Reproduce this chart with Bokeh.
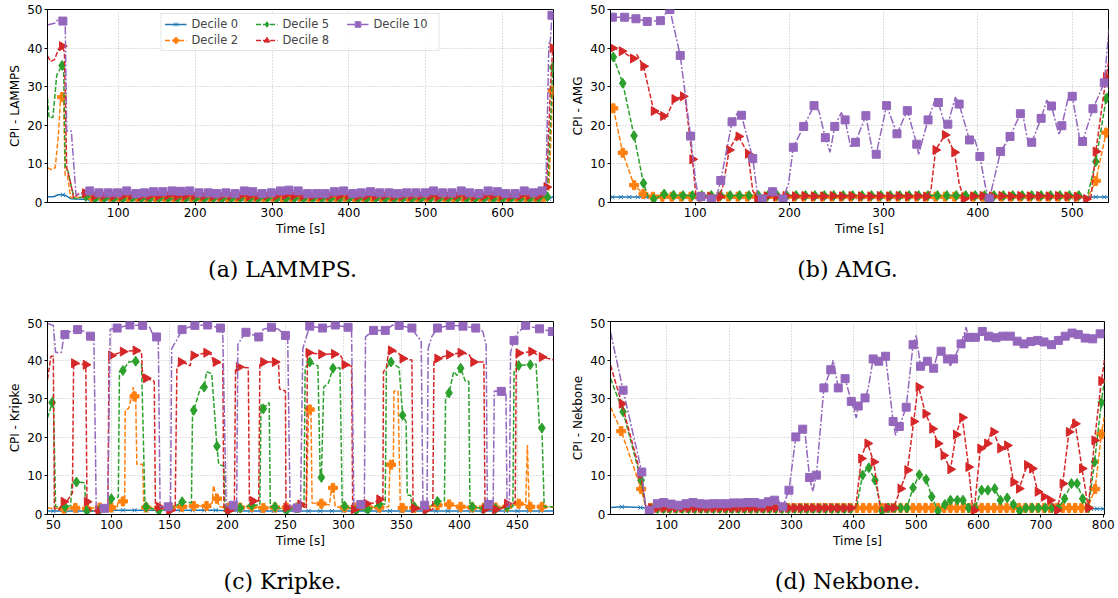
import math
from bokeh.plotting import figure
from bokeh.layouts import column, row
from bokeh.models import Range1d, FixedTicker, Legend, LegendItem
from bokeh.core.properties import value
from bokeh.embed import file_html
from bokeh.resources import INLINE

# ---------------- DATA ----------------
# Each series: marker points (t [s], CPI) and extra line-only points
DECILES = ["Decile 0", "Decile 2", "Decile 5", "Decile 8", "Decile 10"]
CAPTIONS = ["(a) LAMMPS.", "(b) AMG.", "(c) Kripke.", "(d) Nekbone."]
YLABELS = ["CPI - LAMMPS", "CPI - AMG", "CPI - Kripke", "CPI - Nekbone"]

# ---- (a) LAMMPS ----
lammps_d10_marks = [(28, 47.0), (63, 3.0), (75, 2.5), (87, 2.5), (99, 2.5), (111, 3.0), (123, 2.3), (134, 2.5), (146, 2.8), (158, 2.8),
                    (170, 3.0), (181, 2.9), (193, 3.0), (205, 2.5), (217, 2.5), (228, 2.3), (240, 2.5), (252, 2.3), (264, 3.0), (275, 2.8),
                    (287, 2.3), (299, 2.5), (311, 3.0), (322, 3.2), (334, 3.0), (346, 2.3), (358, 2.3), (369, 2.3), (381, 2.8), (393, 3.0),
                    (405, 2.3), (416, 2.5), (428, 2.8), (440, 2.5), (452, 2.5), (463, 2.3), (475, 2.5), (487, 2.5), (499, 2.5), (510, 3.0),
                    (522, 2.5), (534, 2.5), (546, 3.0), (557, 2.5), (569, 2.3), (581, 3.0), (593, 2.8), (604, 2.3), (616, 2.3), (628, 3.0),
                    (640, 2.5), (651, 3.0), (664, 48.5)]
lammps_d10_extra = [(8, 46.0), (18, 46.5), (24, 48.0), (31, 47.0), (33, 18.5), (39, 18.5), (45, 2.0), (52, 2.2),
                    (656, 2.6), (660, 41.0), (662, 42.0), (666, 49.0)]
lammps_d8_marks = [(27, 40.5), (57, 2.4), (69, 1.7), (81, 1.8), (93, 1.6), (105, 1.7), (117, 1.8), (129, 1.6), (140, 1.7), (152, 1.7),
                   (164, 1.8), (176, 1.6), (187, 1.7), (199, 1.8), (211, 1.7), (223, 1.6), (234, 1.7), (246, 1.8), (258, 1.7), (270, 1.6),
                   (281, 1.7), (293, 1.8), (305, 1.7), (317, 1.9), (328, 1.8), (340, 1.7), (352, 1.6), (364, 1.7), (375, 1.8), (387, 1.7),
                   (399, 1.8), (411, 1.6), (422, 1.7), (434, 1.7), (446, 1.8), (458, 1.6), (469, 1.7), (481, 1.7), (493, 1.8), (505, 1.7),
                   (516, 1.6), (528, 1.7), (540, 1.8), (552, 1.7), (563, 1.6), (575, 1.7), (587, 1.8), (599, 1.7), (610, 1.6), (622, 1.7),
                   (634, 1.8), (646, 1.7), (657, 4.0), (665, 40.0)]
lammps_d8_extra = [(8, 38.0), (12, 36.5), (17, 37.0), (23, 40.0), (30, 39.0), (33, 9.0), (37, 6.0), (42, 1.2), (50, 2.5),
                   (662, 30.0), (666, 40.5)]
lammps_d5_marks = [(27, 35.5), (58, 1.6), (70, 1.0), (82, 1.1), (94, 1.0), (106, 1.0), (118, 1.1), (130, 1.0), (141, 1.0), (153, 1.1),
                   (165, 1.0), (177, 1.0), (188, 1.1), (200, 1.0), (212, 1.0), (224, 1.1), (235, 1.0), (247, 1.0), (259, 1.1), (271, 1.0),
                   (282, 1.0), (294, 1.1), (306, 1.0), (318, 1.0), (329, 1.1), (341, 1.0), (353, 1.0), (365, 1.1), (376, 1.0), (388, 1.0),
                   (400, 1.1), (412, 1.0), (423, 1.0), (435, 1.1), (447, 1.0), (459, 1.0), (470, 1.1), (482, 1.0), (494, 1.0), (506, 1.1),
                   (517, 1.0), (529, 1.0), (541, 1.1), (553, 1.0), (564, 1.0), (576, 1.1), (588, 1.0), (600, 1.0), (611, 1.1), (623, 1.0),
                   (635, 1.0), (647, 1.1), (658, 1.5), (665, 35.0)]
lammps_d5_extra = [(8, 27.0), (10, 22.0), (15, 22.0), (20, 33.0), (29, 35.0), (31, 9.0), (35, 8.0), (38, 5.0), (43, 1.0), (662, 20.0)]
lammps_d2_marks = [(27, 27.3), (66, 1.3), (78, 1.3), (90, 1.4), (101, 1.3), (113, 1.3), (125, 1.4), (137, 1.3), (148, 1.3), (160, 1.4),
                   (172, 1.3), (184, 1.3), (195, 1.4), (207, 1.3), (219, 1.3), (231, 1.4), (242, 1.3), (254, 1.3), (266, 1.4), (278, 1.3),
                   (289, 1.3), (301, 1.4), (313, 1.3), (325, 1.3), (336, 1.4), (348, 1.3), (360, 1.3), (372, 1.4), (383, 1.3), (395, 1.3),
                   (407, 1.4), (419, 1.3), (430, 1.3), (442, 1.4), (454, 1.3), (466, 1.3), (477, 1.4), (489, 1.3), (501, 1.3), (513, 1.4),
                   (524, 1.3), (536, 1.3), (548, 1.4), (560, 1.3), (571, 1.3), (583, 1.4), (595, 1.3), (607, 1.3), (618, 1.4), (630, 1.3),
                   (642, 1.3), (653, 1.4), (665, 29.0)]
lammps_d2_extra = [(8, 9.0), (13, 8.5), (18, 9.0), (22, 17.0), (25, 27.0), (29, 26.0), (31, 7.0), (34, 7.0), (38, 1.3),
                   (660, 3.0), (666, 30.0)]
lammps_d0_marks = [(28, 2.0), (60, 0.8), (72, 0.8), (84, 0.8), (96, 0.8), (108, 0.8), (120, 0.8), (131, 0.8), (143, 0.8), (155, 0.8),
                   (167, 0.8), (178, 0.8), (190, 0.8), (202, 0.8), (214, 0.8), (225, 0.8), (237, 0.8), (249, 0.8), (261, 0.8), (272, 0.8),
                   (284, 0.8), (296, 0.8), (308, 0.8), (319, 0.8), (331, 0.8), (343, 0.8), (355, 0.8), (366, 0.8), (378, 0.8), (390, 0.8),
                   (402, 0.8), (413, 0.8), (425, 0.8), (437, 0.8), (449, 0.8), (460, 0.8), (472, 0.8), (484, 0.8), (496, 0.8), (507, 0.8),
                   (519, 0.8), (531, 0.8), (543, 0.8), (554, 0.8), (566, 0.8), (578, 0.8), (590, 0.8), (601, 0.8), (613, 0.8), (625, 0.8),
                   (637, 0.8), (648, 0.8), (660, 1.0)]
lammps_d0_extra = [(8, 1.5), (16, 1.5), (22, 2.0), (32, 1.8), (38, 1.0), (45, 0.9), (666, 1.5)]

# ---- (b) AMG ----
amg_d10_marks = [(12, 48.0), (25, 48.0), (37, 47.6), (49, 46.9), (63, 47.1), (73, 50.0), (84, 38.1), (95, 17.2), (106, 1.5), (117, 0.9),
                 (127, 5.7), (139, 20.9), (149, 22.6), (161, 11.4), (171, 0.9), (182, 2.8), (193, 0.9), (204, 14.3), (215, 19.7), (226, 25.1),
                 (238, 16.8), (248, 19.7), (259, 21.4), (270, 15.6), (281, 22.5), (292, 12.5), (303, 25.1), (314, 17.8), (325, 23.8), (335, 15.1),
                 (347, 21.4), (358, 25.9), (368, 20.3), (380, 25.5), (391, 16.2), (402, 11.9), (412, 0.9), (424, 13.2), (434, 17.1), (445, 23.0),
                 (457, 15.6), (467, 21.8), (478, 25.0), (489, 19.9), (500, 27.5), (511, 15.8), (522, 24.3), (534, 31.0)]
amg_d10_extra = [(70, 49.5), (100, 6.0), (104, 0.3), (122, 1.0), (145, 23.3), (166, 2.0), (199, 5.0), (231, 23.8), (243, 13.0),
                 (255, 23.3), (265, 14.2), (289, 12.0), (337, 12.5), (355, 27.0), (366, 19.0), (376, 27.3), (396, 16.8), (408, 4.0),
                 (447, 23.5), (454, 14.5), (473, 26.5), (486, 17.5), (497, 28.5), (509, 15.0), (539, 45.0)]
amg_d8_marks = [(12, 40.0), (22, 39.2), (34, 37.3), (45, 35.3), (56, 23.7), (66, 22.4), (78, 26.8), (87, 27.5), (97, 11.2), (106, 1.5),
                (116, 1.5), (126, 1.5), (136, 13.6), (146, 17.1), (156, 12.6), (166, 0.9), (176, 1.6), (186, 1.6), (196, 1.7), (206, 1.6),
                (216, 1.7), (226, 1.6), (236, 1.6), (246, 1.7), (256, 1.6), (266, 1.7), (276, 1.6), (286, 1.6), (296, 1.7), (306, 1.6),
                (316, 1.7), (326, 1.6), (336, 1.7), (345, 1.5), (355, 13.6), (365, 17.5), (375, 13.0), (385, 0.9), (395, 1.6), (405, 1.7),
                (415, 1.6), (425, 1.7), (435, 1.6), (445, 1.7), (455, 1.6), (465, 1.7), (475, 1.6), (485, 1.7), (495, 1.6), (505, 1.5),
                (515, 0.9), (525, 13.2), (536, 32.5)]
amg_d8_extra = [(38, 38.3), (68, 21.5), (89, 27.6), (101, 1.0), (130, 5.0), (144, 17.3), (161, 3.0), (350, 3.0), (366, 17.6),
                (380, 5.0), (520, 1.5), (539, 37.0)]
amg_d5_marks = [(13, 37.7), (23, 30.9), (35, 17.3), (45, 5.0), (56, 0.9), (67, 2.2), (77, 1.9), (87, 1.8), (97, 1.8), (107, 1.8),
                (117, 1.8), (127, 1.8), (137, 1.8), (147, 1.8), (157, 1.8), (167, 1.8), (177, 1.8), (187, 1.8), (197, 1.8), (207, 1.8),
                (217, 1.8), (227, 1.8), (237, 1.8), (247, 1.8), (257, 1.8), (267, 1.8), (277, 1.8), (287, 1.8), (297, 1.8), (307, 1.8),
                (317, 1.8), (327, 1.8), (337, 1.8), (347, 1.8), (357, 1.8), (367, 1.8), (377, 1.8), (387, 1.8), (397, 1.8), (407, 1.8),
                (417, 1.8), (427, 1.8), (437, 1.8), (447, 1.8), (457, 1.8), (467, 1.8), (477, 1.8), (487, 1.8), (497, 1.8), (507, 1.8),
                (525, 10.6), (536, 26.9)]
amg_d5_extra = [(50, 1.5), (516, 1.5), (539, 29.5)]
amg_d2_marks = [(13, 24.4), (23, 12.9), (35, 4.5), (45, 2.2), (55, 1.5), (65, 1.5), (75, 1.5), (85, 1.5), (95, 1.5), (105, 1.5),
                (115, 1.5), (125, 1.5), (135, 1.5), (145, 1.5), (155, 1.5), (165, 1.5), (175, 1.5), (185, 1.5), (195, 1.5), (205, 1.5),
                (215, 1.5), (225, 1.5), (235, 1.5), (245, 1.5), (255, 1.5), (265, 1.5), (275, 1.5), (285, 1.5), (295, 1.5), (305, 1.5),
                (315, 1.5), (325, 1.5), (335, 1.5), (345, 1.5), (355, 1.5), (365, 1.5), (375, 1.5), (385, 1.5), (395, 1.5), (405, 1.5),
                (415, 1.5), (425, 1.5), (435, 1.5), (445, 1.5), (455, 1.5), (465, 1.5), (475, 1.5), (485, 1.5), (495, 1.5), (505, 1.5),
                (525, 5.6), (536, 18.1)]
amg_d2_extra = [(50, 1.6), (517, 1.5), (539, 19.5)]
amg_d0_marks = [(12, 1.4), (21, 1.4), (30, 1.4), (39, 1.4), (48, 1.4), (57, 1.4), (66, 1.4), (75, 1.4), (84, 1.4), (93, 1.4),
                (102, 1.4), (111, 1.4), (120, 1.4), (129, 1.4), (138, 1.4), (147, 1.4), (156, 1.4), (165, 1.4), (174, 1.4), (183, 1.4),
                (192, 1.4), (201, 1.4), (210, 1.4), (219, 1.4), (228, 1.4), (237, 1.4), (246, 1.4), (255, 1.4), (264, 1.4), (273, 1.4),
                (282, 1.4), (291, 1.4), (300, 1.4), (309, 1.4), (318, 1.4), (327, 1.4), (336, 1.4), (345, 1.4), (354, 1.4), (363, 1.4),
                (372, 1.4), (381, 1.4), (390, 1.4), (399, 1.4), (408, 1.4), (417, 1.4), (426, 1.4), (435, 1.4), (444, 1.4), (453, 1.4),
                (462, 1.4), (471, 1.4), (480, 1.4), (489, 1.4), (498, 1.4), (507, 1.4), (516, 1.4), (525, 1.4), (534, 1.4)]
amg_d0_extra = [(10, 1.4), (539, 1.4)]

# ---- (c) Kripke ----
kripke_d10_marks = [(60, 46.6), (71, 47.9), (82, 46.2), (94, 1.6), (105, 48.3), (116, 49.1), (127, 49.0), (139, 46.0), (149, 2.0),
                    (161, 47.9), (172, 49.0), (183, 49.1), (194, 48.3), (205, 2.4), (216, 47.2), (227, 46.0), (238, 48.5), (250, 46.4),
                    (260, 1.7), (271, 48.8), (282, 48.3), (293, 49.1), (304, 48.5), (315, 2.6), (326, 47.7), (336, 47.7), (348, 49.0),
                    (359, 48.3), (370, 2.4), (381, 48.3), (392, 49.0), (403, 48.8), (414, 48.3), (425, 2.6), (436, 31.9), (447, 45.1),
                    (457, 49.0), (469, 48.1), (480, 47.4)]
kripke_d10_extra = [(45, 49.5), (50, 49.0), (52, 42.0), (57, 42.0), (59, 46.0), (65, 47.5), (76, 47.5), (85, 45.0), (87, 1.5),
                    (97, 1.5), (99, 48.0), (133, 48.5), (136, 46.5), (140.5, 45.0), (142, 2.0), (151, 2.2), (152, 43.0), (156, 45.0),
                    (196, 47.0), (199, 2.0), (208, 2.5), (209, 44.0), (213, 46.0), (231, 48.0), (244, 48.0), (252, 45.0), (254, 2.0),
                    (263, 2.0), (265, 43.0), (267, 45.0), (307, 47.5), (309, 2.5), (318, 2.5), (319, 46.0), (342, 49.0), (364, 46.0),
                    (367, 45.0), (368.5, 2.5), (372, 2.5), (373, 43.0), (376, 46.0), (420, 47.5), (423, 44.0), (424, 2.5), (429, 2.5),
                    (430, 32.0), (440, 31.5), (441, 2.0), (443, 2.0), (444, 42.0), (450, 47.0), (482, 47.0)]
kripke_d8_marks = [(59, 3.3), (68, 39.2), (78, 38.8), (79, 3.3), (89, 1.0), (100, 41.2), (110, 42.2), (121, 42.5), (130, 35.3),
                   (141, 2.0), (150, 1.0), (160, 39.5), (171, 41.2), (182, 41.9), (190, 39.5), (201, 1.0), (210, 38.2), (222, 3.5),
                   (231, 39.5), (241, 39.5), (251, 1.8), (263, 2.6), (270, 41.9), (281, 41.5), (292, 41.6), (301, 38.8), (309, 1.3),
                   (320, 2.8), (331, 3.9), (341, 42.5), (351, 40.4), (361, 1.6), (371, 1.2), (381, 40.4), (391, 41.4), (401, 41.9),
                   (412, 39.5), (422, 1.4), (431, 1.3), (441, 2.8), (451, 41.8), (462, 42.2), (471, 40.8)]
kripke_d8_extra = [(45, 35.0), (48, 41.0), (50, 41.0), (51, 1.5), (55, 1.2), (62, 3.5), (65, 5.0), (66.5, 5.5), (67.5, 39.0),
                   (82, 1.0), (97, 1.0), (98, 41.0), (126, 42.0), (127, 35.5), (137, 34.5), (138, 1.5), (155, 1.0), (156.5, 38.0),
                   (165, 39.0), (168, 38.5), (169, 41.0), (186, 41.5), (188, 39.5), (196, 39.0), (197, 1.0), (206, 1.0), (207, 37.5),
                   (218, 38.0), (219, 3.3), (227, 3.5), (228, 39.5), (244, 39.5), (245, 32.5), (250, 32.0), (250.5, 1.0), (268, 1.5),
                   (269, 42.0), (298, 41.0), (307, 38.5), (308, 1.0), (318, 1.5), (326, 3.0), (334, 4.0), (334.5, 37.0), (337, 38.0),
                   (339, 42.5), (347, 42.0), (359, 40.0), (360, 1.5), (377, 1.2), (378, 40.0), (408, 41.5), (421, 39.5), (436, 1.5),
                   (448, 3.0), (449, 41.5), (482, 40.0)]
kripke_d5_marks = [(49, 29.0), (60, 2.0), (70, 8.4), (79, 0.9), (90, 1.2), (100, 4.1), (110, 37.3), (121, 39.7), (130, 2.0),
                   (141, 1.0), (150, 1.2), (161, 3.3), (171, 27.0), (180, 33.0), (191, 17.7), (200, 1.0), (211, 1.7), (221, 2.4),
                   (231, 27.4), (241, 2.0), (251, 1.0), (260, 1.7), (271, 39.5), (281, 9.6), (291, 37.9), (301, 2.2), (311, 1.0),
                   (321, 1.2), (331, 2.7), (341, 39.5), (351, 25.7), (361, 2.0), (371, 1.5), (381, 3.4), (391, 31.5), (401, 37.9),
                   (411, 2.0), (421, 1.5), (431, 1.5), (441, 2.0), (451, 38.6), (461, 38.8), (471, 22.4)]
kripke_d5_extra = [(45, 25.0), (50, 31.0), (52, 2.0), (65, 2.3), (66, 8.3), (77, 8.2), (78, 1.0), (97, 2.0), (106, 4.5), (107, 37.0),
                   (115, 39.5), (126, 39.0), (129, 2.5), (169, 3.0), (170, 27.0), (174, 30.0), (177, 33.0), (182, 37.0), (186.5, 36.5),
                   (192.5, 13.0), (197, 12.5), (198, 1.0), (228, 2.5), (229, 28.5), (236, 29.0), (237, 2.0), (266, 2.0), (267, 38.0),
                   (278, 38.5), (280, 9.7), (283, 33.0), (287, 34.0), (297, 38.0), (299, 2.0), (336, 2.7), (337, 38.0), (348, 38.0),
                   (354, 24.0), (355, 5.0), (358, 5.0), (359, 2.0), (387, 3.5), (388, 30.0), (395, 37.0), (398, 36.0), (405, 34.5),
                   (408, 34.5), (409, 2.0), (446, 2.0), (447, 37.0), (466, 39.0), (469, 22.0), (473, 2.0), (482, 2.0)]
kripke_d2_marks = [(59, 1.5), (69, 1.7), (79, 1.5), (90, 1.8), (100, 1.8), (110, 3.4), (120, 30.6), (130, 1.8), (141, 1.7), (151, 1.8),
                   (161, 2.0), (171, 2.2), (182, 2.2), (191, 4.1), (201, 1.8), (211, 1.8), (221, 2.0), (231, 1.7), (241, 1.8), (251, 1.8),
                   (260, 1.8), (271, 27.2), (281, 2.8), (291, 6.9), (301, 1.8), (311, 1.8), (321, 1.8), (331, 1.8), (341, 12.9), (351, 1.7),
                   (361, 1.7), (371, 1.8), (381, 2.4), (391, 2.6), (401, 2.0), (411, 1.8), (421, 1.8), (431, 1.8), (441, 2.0), (451, 2.8),
                   (461, 2.0), (471, 2.0)]
kripke_d2_extra = [(45, 1.7), (105, 1.8), (106, 3.5), (111.5, 3.5), (112, 27.0), (115, 27.5), (117, 30.0), (119, 33.0), (121, 30.0),
                   (122, 13.0), (127, 13.0), (128, 2.0), (187, 3.0), (188, 7.5), (193, 2.0), (268, 2.0), (270, 27.5), (272, 27.0),
                   (273, 3.0), (288, 2.5), (290, 7.7), (293, 2.0), (339, 2.0), (340, 13.0), (343, 13.0), (343.5, 32.0), (347, 32.0),
                   (349, 2.0), (457, 2.5), (458.5, 18.0), (460, 2.5), (482, 1.8)]
kripke_d0_marks = [(50, 0.9), (60, 0.9), (70, 0.9), (80, 0.9), (90, 0.9), (100, 1.1), (110, 1.1), (120, 1.1), (130, 1.1), (140, 1.1),
                   (150, 1.1), (160, 1.1), (170, 1.1), (180, 1.1), (190, 1.1), (200, 1.0), (210, 0.9), (220, 0.9), (230, 0.9), (240, 0.9),
                   (250, 0.9), (260, 0.9), (270, 0.9), (280, 0.9), (290, 0.9), (300, 0.9), (310, 0.9), (320, 0.9), (330, 0.9), (340, 0.9),
                   (350, 0.9), (360, 0.9), (370, 0.9), (380, 0.9), (390, 0.9), (400, 0.9), (410, 0.9), (420, 0.9), (430, 0.9), (440, 0.9),
                   (450, 0.9), (460, 0.9), (470, 0.9)]
kripke_d0_extra = [(45, 0.9), (482, 0.9)]

# ---- (d) Nekbone ----
nek_d10_marks = [(30, 32.2), (60, 11.0), (72, 1.1), (85, 2.8), (95, 3.1), (107, 2.7), (119, 2.4), (131, 2.8), (142, 3.1), (153, 2.8),
                 (164, 2.7), (175, 2.8), (186, 2.8), (197, 2.8), (207, 3.0), (219, 3.0), (230, 3.1), (241, 3.1), (252, 2.8), (263, 3.3),
                 (273, 3.7), (286, 2.0), (296, 6.3), (307, 20.1), (318, 22.1), (329, 9.6), (340, 10.2), (352, 32.8), (363, 37.5), (375, 32.8),
                 (386, 35.2), (396, 29.3), (407, 28.1), (418, 30.2), (431, 40.3), (440, 39.7), (451, 41.0), (463, 24.1), (473, 22.8), (484, 27.8),
                 (495, 44.0), (507, 38.4), (518, 39.7), (528, 37.9), (540, 42.3), (550, 40.3), (560, 40.3), (572, 44.2), (584, 45.9), (595, 45.9),
                 (606, 47.4), (616, 46.2), (628, 45.8), (639, 46.2), (651, 46.2), (662, 44.9), (673, 44.2), (684, 44.8), (695, 45.1), (705, 44.7),
                 (717, 44.0), (728, 45.1), (739, 46.2), (750, 47.0), (760, 46.6), (771, 45.7), (783, 45.5), (795, 46.8)]
nek_d10_extra = [(10, 47.2), (67, 1.0), (280, 3.5), (283, 1.8), (321, 22.5), (334, 6.0), (367, 40.0), (404, 25.0), (423, 32.5),
                 (467, 20.5), (500, 46.5), (512, 38.0), (534, 41.5), (555, 38.5), (580, 48.5), (802, 47.0)]
nek_d8_marks = [(28, 28.7), (58, 10.5), (75, 1.7), (85, 1.7), (95, 1.7), (105, 1.7), (115, 1.7), (125, 1.7), (135, 1.7), (145, 1.7),
                (155, 1.7), (165, 1.7), (175, 1.7), (185, 1.7), (195, 1.7), (205, 1.7), (215, 1.7), (225, 1.7), (235, 1.7), (245, 1.7),
                (255, 1.7), (265, 1.7), (275, 1.7), (285, 1.7), (295, 1.7), (305, 1.7), (315, 1.7), (325, 1.7), (335, 1.7), (345, 1.7),
                (355, 1.7), (365, 1.7), (375, 1.7), (385, 1.7), (395, 1.7), (412, 14.5), (422, 18.4), (432, 13.6), (454, 1.7), (464, 1.7),
                (475, 6.7), (486, 11.5), (496, 24.1), (504, 33.0), (515, 26.1), (526, 22.2), (535, 18.4), (544, 15.3), (555, 11.7), (564, 20.7),
                (574, 25.1), (584, 12.3), (593, 1.1), (603, 17.1), (614, 18.4), (624, 21.4), (635, 17.1), (646, 17.9), (656, 8.4), (665, 6.7),
                (678, 12.8), (686, 11.9), (695, 5.9), (705, 4.6), (715, 3.7), (726, 1.1), (735, 8.0), (745, 21.4), (755, 23.5), (766, 11.9),
                (776, 1.7), (786, 19.2), (797, 34.6)]
nek_d8_extra = [(10, 38.6), (67, 1.5), (403, 1.7), (420, 18.5), (443, 0.7), (503, 33.3), (573, 25.3), (591, 0.8), (621, 21.8),
                (754, 24.8), (802, 40.0)]
nek_d5_marks = [(30, 26.6), (59, 8.9), (75, 1.5), (85, 1.5), (95, 1.5), (105, 1.5), (115, 1.5), (125, 1.5), (135, 1.5), (145, 1.5),
                (155, 1.5), (165, 1.5), (175, 1.5), (185, 1.5), (195, 1.5), (205, 1.5), (215, 1.5), (225, 1.5), (235, 1.5), (245, 1.5),
                (255, 1.5), (265, 1.5), (275, 1.5), (285, 1.5), (295, 1.5), (305, 1.5), (315, 1.5), (325, 1.5), (335, 1.5), (345, 1.5),
                (355, 1.5), (365, 1.5), (375, 1.5), (385, 1.5), (395, 1.5), (414, 10.2), (424, 12.1), (434, 8.9), (445, 0.9), (455, 1.7),
                (465, 1.7), (475, 1.7), (485, 1.7), (495, 6.9), (505, 10.3), (516, 9.1), (525, 4.6), (535, 0.9), (546, 2.6), (555, 3.7),
                (566, 3.7), (575, 3.7), (584, 1.7), (594, 1.7), (605, 6.3), (615, 6.3), (626, 6.7), (635, 3.7), (646, 4.3), (656, 2.6),
                (666, 0.9), (676, 1.7), (686, 1.7), (696, 1.7), (707, 1.7), (718, 1.7), (728, 1.7), (738, 4.1), (749, 8.0), (758, 8.0),
                (767, 4.1), (776, 1.7), (786, 13.6), (797, 29.0)]
nek_d5_extra = [(10, 35.2), (67, 1.0), (404, 1.7), (423, 12.5), (802, 35.0)]
nek_d2_marks = [(27, 21.6), (59, 6.6), (75, 1.7), (85, 1.7), (95, 1.7), (105, 1.7), (115, 1.7), (125, 1.7), (135, 1.7), (145, 1.7),
                (155, 1.7), (165, 1.7), (175, 1.7), (185, 1.7), (195, 1.7), (205, 1.7), (215, 1.7), (225, 1.7), (235, 1.7), (245, 1.7),
                (255, 1.7), (265, 1.7), (275, 1.7), (285, 1.7), (295, 1.7), (305, 1.7), (315, 1.7), (325, 1.7), (335, 1.7), (345, 1.7),
                (355, 1.7), (365, 1.7), (375, 1.7), (385, 1.7), (395, 1.7), (405, 1.7), (415, 1.7), (425, 1.7), (435, 1.7), (445, 1.7),
                (455, 1.7), (465, 1.7), (475, 1.7), (485, 1.7), (495, 1.7), (505, 1.7), (515, 1.7), (525, 1.7), (535, 1.7), (545, 1.7),
                (555, 1.7), (565, 1.7), (575, 1.7), (585, 1.7), (595, 1.7), (605, 1.7), (615, 1.7), (625, 1.7), (635, 1.7), (645, 1.7),
                (655, 1.7), (665, 1.7), (675, 1.7), (685, 1.7), (695, 1.7), (705, 1.7), (715, 1.7), (725, 1.7), (735, 1.7), (745, 1.7),
                (755, 1.7), (765, 1.7), (775, 1.7), (787, 6.6), (797, 20.8)]
nek_d2_extra = [(10, 27.8), (67, 1.5), (802, 25.7)]
nek_d0_marks = [(28, 2.0), (58, 1.8), (90, 1.7), (120, 1.7), (150, 1.7), (180, 1.7), (210, 1.7), (240, 1.7), (270, 1.7), (300, 1.7),
                (330, 1.7), (360, 1.7), (390, 1.7), (420, 1.7), (450, 1.7), (480, 1.7), (510, 1.7), (540, 1.7), (570, 1.7), (600, 1.7),
                (630, 1.7), (660, 1.7), (690, 1.7), (720, 1.7), (750, 1.7), (780, 1.5), (790, 1.5), (800, 1.5)]
nek_d0_extra = [(10, 1.8), (67, 1.7), (802, 1.5)]

# tick labels / ranges
lammps_ticks = [100, 200, 300, 400, 500, 600]
amg_ticks = [100, 200, 300, 400, 500]
kripke_ticks = [50, 100, 150, 200, 250, 300, 350, 400, 450]
nek_ticks = [100, 200, 300, 400, 500, 600, 700, 800]
y_ticks = [0, 10, 20, 30, 40, 50]

# ---------------- STYLE ----------------
COLORS = ["#1f77b4", "#ff7f0e", "#2ca02c", "#d62728", "#9467bd"]
MARKERS = ["x", "plus", "diamond", "triangle", "square"]
ANGLES = [0, 0, 0, -math.pi / 2, 0]
SIZES = [6, 9, 10, 9, 8]
DASHES = ["solid", "5 2", "5 2", "5 2", "8 2 2 2"]
FONT = "DejaVu Sans"
SERIF = "DejaVu Serif"


def build(series, xr, ticks, ylabel, width, height, mbl, mbr, mbt, mbb, legend=False):
    p = figure(width=width, height=height, x_range=Range1d(*xr), y_range=Range1d(0, 50),
               output_backend="svg", toolbar_location=None,
               min_border_left=mbl, min_border_right=mbr, min_border_top=mbt, min_border_bottom=mbb)
    p.outline_line_color = "black"
    p.outline_line_width = 1
    p.outline_line_alpha = 1
    p.background_fill_color = "white"
    p.border_fill_color = "white"
    p.xaxis.ticker = FixedTicker(ticks=ticks, minor_ticks=[])
    p.yaxis.ticker = FixedTicker(ticks=y_ticks, minor_ticks=[])
    for ax in (p.xaxis, p.yaxis):
        ax.axis_line_color = "black"
        ax.major_tick_line_color = "black"
        ax.major_tick_in = 0
        ax.major_tick_out = 3
        ax.minor_tick_line_color = None
        ax.major_label_text_font = FONT
        ax.major_label_text_font_size = "12px"
        ax.major_label_text_color = "black"
        ax.major_label_standoff = 2
        ax.axis_label_text_font = FONT
        ax.axis_label_text_font_size = "12px"
        ax.axis_label_text_font_style = "normal"
        ax.axis_label_text_color = "black"
        ax.axis_label_standoff = 2
    p.xaxis.axis_label = "Time [s]"
    p.yaxis.axis_label = ylabel
    p.grid.grid_line_color = "#b0b0b0"
    p.grid.grid_line_dash = "1 2"
    p.grid.grid_line_width = 0.8

    items = []
    for i, (marks, extra) in enumerate(series):
        line_pts = sorted(marks + extra)
        lx = [t for t, v in line_pts]
        ly = [v for t, v in line_pts]
        mx = [t for t, v in marks]
        my = [v for t, v in marks]
        lr = p.line(lx, ly, line_color=COLORS[i], line_width=1.5, line_dash=DASHES[i])
        sr = p.scatter(mx, my, marker=MARKERS[i], size=SIZES[i], angle=ANGLES[i],
                       fill_color=COLORS[i], line_color=COLORS[i], line_width=1.0)
        items.append(LegendItem(label=DECILES[i], renderers=[lr, sr]))
    if legend:
        lg = Legend(items=items, location="top_center", ncols=3, orientation="vertical")
        lg.label_text_font = FONT
        lg.label_text_font_size = "11.5px"
        lg.border_line_color = "#cccccc"
        lg.background_fill_alpha = 0.85
        lg.glyph_width = 22
        lg.glyph_height = 14
        lg.label_height = 14
        lg.label_width = 62
        lg.label_standoff = 5
        lg.spacing = 2
        lg.padding = 3
        lg.margin = 4
        p.add_layout(lg)
    return p


def caption_fig(text, width, height, cx, cy):
    # a bare strip holding one sub-figure caption; its ranges are in pixels
    c = figure(width=width, height=height, x_range=Range1d(0, width), y_range=Range1d(0, height),
               x_axis_type=None, y_axis_type=None, output_backend="svg", toolbar_location=None,
               min_border=0, min_border_left=0, min_border_right=0, min_border_top=0, min_border_bottom=0)
    c.outline_line_color = None
    c.grid.visible = False
    c.background_fill_color = "white"
    c.border_fill_color = "white"
    c.text(x=[cx], y=[cy], text=[text], text_align="center", text_baseline="middle",
           text_font=value(SERIF), text_font_size="22px", text_color="black")
    return c


W_LEFT, W_RIGHT = 568, 550
H_TOP, H_CAP1, H_BOT, H_CAP2 = 240, 78, 234, 46

pa = build([(lammps_d0_marks, lammps_d0_extra), (lammps_d2_marks, lammps_d2_extra), (lammps_d5_marks, lammps_d5_extra),
            (lammps_d8_marks, lammps_d8_extra), (lammps_d10_marks, lammps_d10_extra)],
           (8, 666), lammps_ticks, YLABELS[0], W_LEFT, H_TOP, 47, 15, 9, 38, legend=True)
pb = build([(amg_d0_marks, amg_d0_extra), (amg_d2_marks, amg_d2_extra), (amg_d5_marks, amg_d5_extra),
            (amg_d8_marks, amg_d8_extra), (amg_d10_marks, amg_d10_extra)],
           (10, 538.5), amg_ticks, YLABELS[1], W_RIGHT, H_TOP, 41, 10, 9, 38)
pc = build([(kripke_d0_marks, kripke_d0_extra), (kripke_d2_marks, kripke_d2_extra), (kripke_d5_marks, kripke_d5_extra),
            (kripke_d8_marks, kripke_d8_extra), (kripke_d10_marks, kripke_d10_extra)],
           (45, 481), kripke_ticks, YLABELS[2], W_LEFT, H_BOT, 47, 15, 3, 38)
pd_ = build([(nek_d0_marks, nek_d0_extra), (nek_d2_marks, nek_d2_extra), (nek_d5_marks, nek_d5_extra),
             (nek_d8_marks, nek_d8_extra), (nek_d10_marks, nek_d10_extra)],
            (9.8, 802), nek_ticks, YLABELS[3], W_RIGHT, H_BOT, 41, 14, 3, 38)

ca = caption_fig(CAPTIONS[0], W_LEFT, H_CAP1, 282, H_CAP1 - 29)
cb = caption_fig(CAPTIONS[1], W_RIGHT, H_CAP1, 279, H_CAP1 - 29)
cc = caption_fig(CAPTIONS[2], W_LEFT, H_CAP2, 282, H_CAP2 - 29)
cd = caption_fig(CAPTIONS[3], W_RIGHT, H_CAP2, 279, H_CAP2 - 29)

layout = column(row(pa, pb), row(ca, cb), row(pc, pd_), row(cc, cd))
open("out.html", "w").write(file_html(layout, INLINE))
